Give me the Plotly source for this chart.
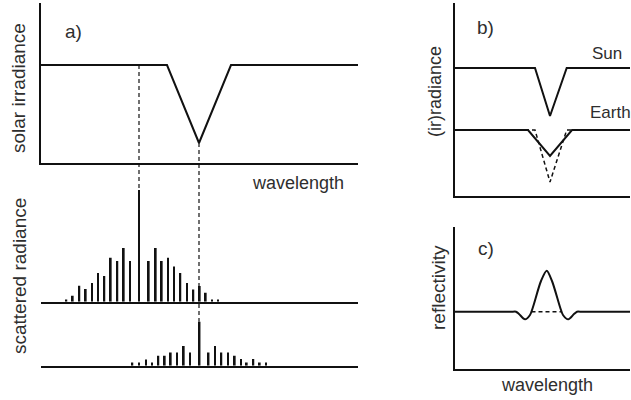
import numpy as np
import plotly.graph_objects as go

W, H = 631, 400

# ---------------- data ----------------
# panel a) solar irradiance (wavelength in arbitrary units)
solar_wl = [0, 126, 158, 190, 317]
solar_irr = [98, 98, 20, 98, 98]

# scattered radiance, upper row
scat1_wl = [25.3, 31.7, 38.3, 44.7, 51, 57, 63.3, 69.7, 76.3, 82.7, 89, 98,
            107.7, 114.7, 120.7, 127, 133, 139.3, 146, 152.3, 158.7, 164.7, 171, 177]
scat1_val = [2.3, 6, 16, 12.7, 18.7, 28.7, 25.7, 44, 40.7, 53.7, 40.7, 111.7,
             40.7, 53.7, 40.7, 44, 35.3, 28.7, 18.7, 12.3, 15.7, 9, 2.3, 2.3]

# scattered radiance, lower row
scat2_wl = [91.3, 98, 105, 111, 117.3, 123.7, 129.7, 136, 142.7, 149, 158.5,
            167.5, 174, 180.3, 187, 193.7, 200, 205.7, 212.3, 218.7, 225]
scat2_val = [3.3, 3.3, 6.3, 3.3, 10, 10, 13.3, 13.3, 19.7, 13.3, 44,
             13.3, 19.7, 13.3, 13.3, 10, 6.7, 3.3, 6.7, 3.3, 3.3]

# panel b) (ir)radiance
sun_wl = [0, 80, 95, 111.7, 175]
sun_val = [128, 128, 80, 128, 128]
earth_wl = [0, 73, 95, 117, 175]
earth_val = [66, 66, 40, 66, 66]
earth_nofill_wl = [0, 80, 95, 111.7, 175]
earth_nofill_val = [66, 66, 14, 66, 66]

# panel c) reflectivity
refl_flat_left_wl = [0, 58]
refl_bump_wl = [58, 61, 64, 70, 75, 78, 86, 91.7, 97, 105, 108, 113.3, 119, 122, 125]
refl_bump_val = [57.3, 57.3, 55, 49.7, 54, 62, 88, 98.3, 88, 62, 54, 49.7, 55, 57.3, 57.3]
refl_flat_right_wl = [125, 175]
refl_level = 57.3
refl_base_wl = [76.5, 107]

# ---------------- layout helpers ----------------
def xd(p0, p1):
    return [p0 / W, p1 / W]

def yd(top, bottom):
    return [1 - bottom / H, 1 - top / H]

INK = "#111111"
TXT = "#2e2e2e"
FONT = "Liberation Sans, Arial, Helvetica, sans-serif"

axes = {
    "1": (xd(41, 358), yd(3, 163), [0, 317], [0, 160], True),
    "2": (xd(41, 358), yd(170, 301.7), [0, 317], [0, 131.7], False),
    "3": (xd(41, 358), yd(310, 365.7), [0, 317], [0, 55.7], False),
    "4": (xd(455, 630), yd(3, 196), [0, 175], [0, 193], True),
    "5": (xd(455, 630), yd(227, 369), [0, 175], [0, 142], True),
}

fig = go.Figure()
layout = dict(
    width=W, height=H, margin=dict(l=0, r=0, t=0, b=0),
    paper_bgcolor="white", plot_bgcolor="rgba(0,0,0,0)",
    showlegend=False, font=dict(family=FONT, color=TXT),
)
for k, (xdom, ydom, xr, yr, showy) in axes.items():
    xn = "xaxis" if k == "1" else f"xaxis{k}"
    yn = "yaxis" if k == "1" else f"yaxis{k}"
    ax_id = "" if k == "1" else k
    layout[xn] = dict(domain=xdom, range=xr, anchor=f"y{ax_id}", showline=True,
                      linecolor=INK, linewidth=1.5, showgrid=False, zeroline=False,
                      showticklabels=False, ticks="", fixedrange=True)
    layout[yn] = dict(domain=ydom, range=yr, anchor=f"x{ax_id}", showline=showy,
                      linecolor=INK, linewidth=1.5, showgrid=False, zeroline=False,
                      showticklabels=False, ticks="", fixedrange=True)
fig.update_layout(**layout)

def yref_paper(k, v):
    _, ydom, _, yr, _ = axes[k]
    return ydom[0] + (v - yr[0]) / (yr[1] - yr[0]) * (ydom[1] - ydom[0])

line_style = dict(color=INK, width=2)

# panel a
fig.add_trace(go.Scatter(x=solar_wl, y=solar_irr, mode="lines", line=line_style,
                         xaxis="x", yaxis="y", hoverinfo="skip"))
fig.add_trace(go.Bar(x=scat1_wl, y=scat1_val, width=1.9, marker=dict(color=INK, line_width=0),
                     xaxis="x2", yaxis="y2", hoverinfo="skip"))
fig.add_trace(go.Bar(x=scat2_wl, y=scat2_val, width=1.9, marker=dict(color=INK, line_width=0),
                     xaxis="x3", yaxis="y3", hoverinfo="skip"))

# dashed connectors
i1 = int(np.argmax(scat1_val))
x_peak1 = scat1_wl[i1]
y_top = yref_paper("1", float(np.interp(x_peak1, solar_wl, solar_irr)))
y_bot = yref_paper("2", scat1_val[i1])
fig.add_shape(type="line", xref="x", yref="paper", x0=x_peak1, x1=x_peak1,
              y0=y_top, y1=y_bot, line=dict(color=INK, width=1.2, dash="4px,3px"))
i_dip = int(np.argmin(solar_irr))
x_dip = solar_wl[i_dip]
i2 = int(np.argmax(scat2_val))
y_top2 = yref_paper("1", solar_irr[i_dip])
y_bot2 = yref_paper("3", scat2_val[i2])
fig.add_shape(type="line", xref="x", yref="paper", x0=x_dip, x1=x_dip,
              y0=y_top2, y1=y_bot2, line=dict(color=INK, width=1.2, dash="4px,3px"))

# panel b
fig.add_trace(go.Scatter(x=sun_wl, y=sun_val, mode="lines", line=line_style,
                         xaxis="x4", yaxis="y4", hoverinfo="skip"))
fig.add_trace(go.Scatter(x=earth_wl, y=earth_val, mode="lines", line=line_style,
                         xaxis="x4", yaxis="y4", hoverinfo="skip"))
fig.add_trace(go.Scatter(x=earth_nofill_wl, y=earth_nofill_val, mode="lines",
                         line=dict(color=INK, width=1.5, dash="4px,3px"),
                         xaxis="x4", yaxis="y4", hoverinfo="skip"))

# panel c
fig.add_trace(go.Scatter(x=refl_flat_left_wl, y=[refl_level] * 2, mode="lines", line=line_style,
                         xaxis="x5", yaxis="y5", hoverinfo="skip"))
fig.add_trace(go.Scatter(x=refl_bump_wl, y=refl_bump_val, mode="lines",
                         line=dict(color=INK, width=2, shape="spline", smoothing=0.8),
                         xaxis="x5", yaxis="y5", hoverinfo="skip"))
fig.add_trace(go.Scatter(x=refl_flat_right_wl, y=[refl_level] * 2, mode="lines", line=line_style,
                         xaxis="x5", yaxis="y5", hoverinfo="skip"))
fig.add_trace(go.Scatter(x=refl_base_wl, y=[refl_level] * 2, mode="lines",
                         line=dict(color=INK, width=1.5, dash="4px,3px"),
                         xaxis="x5", yaxis="y5", hoverinfo="skip"))

# ---------------- text ----------------
def note(text, px, py, size=18, angle=0):
    fig.add_annotation(text=text, x=px / W, y=1 - py / H, xref="paper", yref="paper",
                       showarrow=False, textangle=angle, xanchor="center", yanchor="middle",
                       font=dict(size=size, color=TXT, family=FONT))

note("a)", 73, 31, 19)
note("solar irradiance", 19, 88, 19, -90)
note("wavelength", 298, 183, 18)
note("scattered radiance", 19, 276, 19, -90)
note("b)", 485, 27, 19)
note("Sun", 607, 53, 17)
note("Earth", 610, 113, 17)
note("(ir)radiance", 435, 91, 18, -90)
note("c)", 486, 248, 19)
note("reflectivity", 438, 288, 19, -90)
note("wavelength", 547, 385, 18)

fig.write_html("out.html")
